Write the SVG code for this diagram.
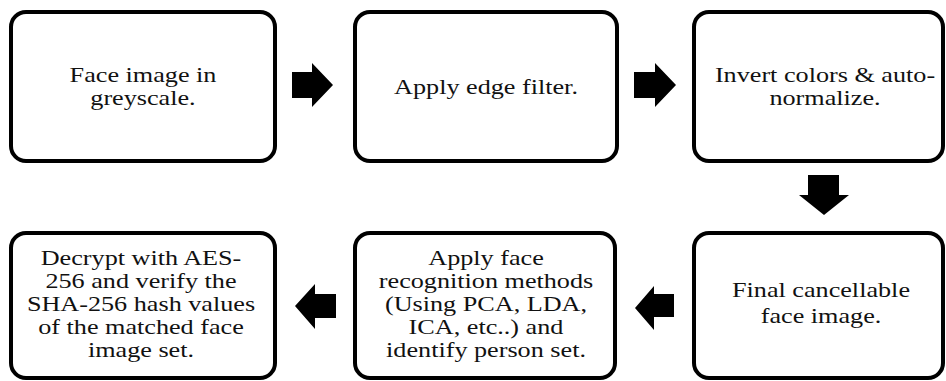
<svg xmlns="http://www.w3.org/2000/svg" width="946" height="381" viewBox="0 0 946 381">
<style>
.box{fill:#fff;stroke:#000;stroke-width:4}
.t{font-family:'Times New Roman','Liberation Serif',Tinos,Times,serif;font-size:22px;fill:#111;text-anchor:middle}
.arr{fill:#000}
</style>
<rect width="946" height="381" fill="#fff"/>
<g id="n1">
<rect class="box" x="11" y="12" width="264" height="149" rx="15"/>
<text class="t" font-family="Liberation Serif, serif" transform="translate(143,0) scale(1.19,1)"><tspan x="0" y="82">Face image in</tspan><tspan x="0" y="105">greyscale.</tspan></text>
</g>
<g id="n2">
<rect class="box" x="355" y="12" width="262" height="149" rx="15"/>
<text class="t" font-family="Liberation Serif, serif" transform="translate(486,0) scale(1.19,1)"><tspan x="0" y="94">Apply edge filter.</tspan></text>
</g>
<g id="n3">
<rect class="box" x="694" y="12" width="249" height="149" rx="15"/>
<text class="t" font-family="Liberation Serif, serif" transform="translate(825,0) scale(1.19,1)"><tspan x="0" y="82">Invert colors &amp; auto-</tspan><tspan x="0" y="105">normalize.</tspan></text>
</g>
<g id="n4">
<rect class="box" x="694" y="233" width="249" height="145" rx="15"/>
<text class="t" font-family="Liberation Serif, serif" transform="translate(821,0) scale(1.19,1)"><tspan x="0" y="297">Final cancellable</tspan><tspan x="0" y="323">face image.</tspan></text>
</g>
<g id="n5">
<rect class="box" x="355" y="233" width="260" height="145" rx="15"/>
<text class="t" font-family="Liberation Serif, serif" transform="translate(486,0) scale(1.19,1)"><tspan x="0" y="265">Apply face</tspan><tspan x="0" y="288">recognition methods</tspan><tspan x="0" y="311">(Using PCA, LDA,</tspan><tspan x="0" y="334">ICA, etc..) and</tspan><tspan x="0" y="357">identify person set.</tspan></text>
</g>
<g id="n6">
<rect class="box" x="11" y="233" width="264" height="145" rx="15"/>
<text class="t" font-family="Liberation Serif, serif" transform="translate(141,0) scale(1.19,1)"><tspan x="0" y="265">Decrypt with AES-</tspan><tspan x="0" y="288">256 and verify the</tspan><tspan x="0" y="311">SHA-256 hash values</tspan><tspan x="0" y="334">of the matched face</tspan><tspan x="0" y="357">image set.</tspan></text>
</g>
<g id="connectors">
<polygon class="arr" points="292,72 312,72 312,63 333,85 312,107 312,98 292,98"/>
<polygon class="arr" points="634,72 655,72 655,63 676,85 655,107 655,98 634,98"/>
<polygon class="arr" points="808,175 839,175 839,195 849,195 824,215 799,195 808,195"/>
<polygon class="arr" points="674,294 654,294 654,286 635,308 654,330 654,317 674,317"/>
<polygon class="arr" points="336,294 315,294 315,284 295,306 315,329 315,318 336,318"/>
</g>
</svg>
